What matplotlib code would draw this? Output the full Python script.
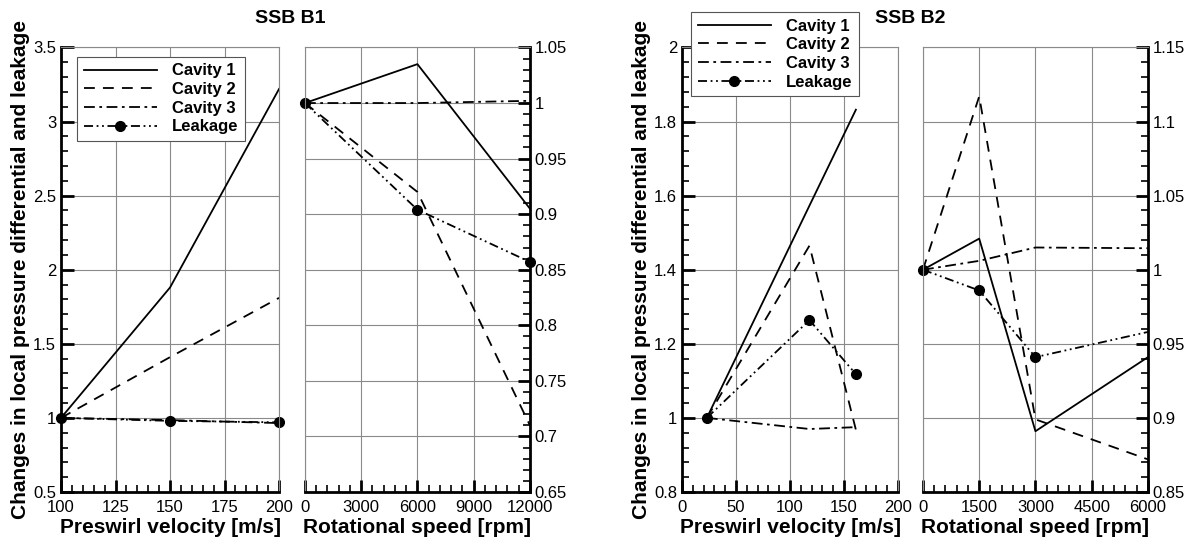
import numpy as np
import matplotlib
matplotlib.use("Agg")
import matplotlib.pyplot as plt
from matplotlib.ticker import MultipleLocator, FormatStrFormatter

plt.rcParams['font.family'] = ['Liberation Sans', 'DejaVu Sans']

# ---- data ----
series_names = ["Cavity 1", "Cavity 2", "Cavity 3", "Leakage"]

# SSB B1, preswirl velocity sweep
b1_preswirl = [100, 150, 200]
b1_pre_cav1 = [1.0, 1.88, 3.22]
b1_pre_cav2 = [1.0, 1.41, 1.81]
b1_pre_cav3 = [1.0, 0.985, 0.965]
b1_pre_leak = [1.0, 0.98, 0.97]

# SSB B1, rotational speed sweep
b1_rpm = [0, 6000, 12000]
b1_rpm_cav1 = [1.0, 1.035, 0.905]
b1_rpm_cav2 = [1.0, 0.92, 0.71]
b1_rpm_cav3 = [1.0, 1.0, 1.002]
b1_rpm_leak = [1.0, 0.904, 0.857]

# SSB B2, preswirl velocity sweep
b2_preswirl = [23, 118, 161]
b2_pre_cav1 = [1.0, 1.573, 1.832]
b2_pre_cav2 = [1.0, 1.465, 0.968]
b2_pre_cav3 = [1.0, 0.97, 0.975]
b2_pre_leak = [1.0, 1.264, 1.118]

# SSB B2, rotational speed sweep
b2_rpm = [0, 1500, 3000, 6000]
b2_rpm_cav1 = [1.0, 1.021, 0.891, 0.941]
b2_rpm_cav2 = [1.0, 1.117, 0.899, 0.872]
b2_rpm_cav3 = [1.0, 1.006, 1.015, 1.0145]
b2_rpm_leak = [1.0, 0.986, 0.941, 0.958]

# line styles for the four series
styles = [
    dict(linestyle='-'),
    dict(dashes=(6, 4.5)),
    dict(dashes=(6, 2.5, 1.5, 2.5)),
    dict(dashes=(5, 2, 1, 2, 1, 2), marker='o', markersize=7),
]

fig = plt.figure(figsize=(11.94, 5.42), dpi=100)

ax1 = fig.add_axes([0.0511, 0.0923, 0.1826, 0.8201])
ax2 = fig.add_axes([0.2554, 0.0923, 0.1884, 0.8201])
ax3 = fig.add_axes([0.5712, 0.0923, 0.1809, 0.8201])
ax4 = fig.add_axes([0.7730, 0.0923, 0.1884, 0.8201])


def style_axis(ax, side, xmaj, xmin, ymaj, ymin):
    ax.set_axisbelow(True)
    ax.grid(True, which='major', color='#8a8a8a', lw=0.8)
    ax.xaxis.set_major_locator(MultipleLocator(xmaj))
    ax.xaxis.set_minor_locator(MultipleLocator(xmin))
    ax.yaxis.set_major_locator(MultipleLocator(ymaj))
    ax.yaxis.set_minor_locator(MultipleLocator(ymin))
    ax.xaxis.set_major_formatter(FormatStrFormatter('%g'))
    ax.yaxis.set_major_formatter(FormatStrFormatter('%g'))
    for s in ax.spines.values():
        s.set_color('#8a8a8a')
        s.set_linewidth(0.8)
    ax.spines['bottom'].set_color('black')
    ax.spines['bottom'].set_linewidth(2)
    ax.spines[side].set_color('black')
    ax.spines[side].set_linewidth(2)
    right = side == 'right'
    ax.tick_params(which='both', direction='in', labelsize=12, width=2,
                   top=False, bottom=True, left=not right, right=right,
                   labelleft=not right, labelright=right)
    ax.tick_params(axis='x', which='both', pad=6)
    ax.tick_params(which='major', length=9)
    ax.tick_params(which='minor', length=5, width=1.2)


def draw(ax, x, ys, leak_every=None):
    handles = []
    for name, y, st in zip(series_names, ys, styles):
        kw = dict(st)
        if 'marker' in kw:
            kw['clip_on'] = False
            if leak_every is not None:
                kw['markevery'] = leak_every
        h, = ax.plot(x, y, color='black', lw=1.3, label=name, **kw)
        handles.append(h)
    return handles


h = draw(ax1, b1_preswirl, [b1_pre_cav1, b1_pre_cav2, b1_pre_cav3, b1_pre_leak])
draw(ax2, b1_rpm, [b1_rpm_cav1, b1_rpm_cav2, b1_rpm_cav3, b1_rpm_leak])
draw(ax3, b2_preswirl, [b2_pre_cav1, b2_pre_cav2, b2_pre_cav3, b2_pre_leak])
draw(ax4, b2_rpm, [b2_rpm_cav1, b2_rpm_cav2, b2_rpm_cav3, b2_rpm_leak],
     leak_every=[0, 1, 2])

ax1.set_xlim(100, 200)
ax1.set_ylim(0.5, 3.5)
style_axis(ax1, 'left', 25, 5, 0.5, 0.1)

ax2.set_xlim(0, 12000)
ax2.set_ylim(0.65, 1.05)
style_axis(ax2, 'right', 3000, 600, 0.05, 0.01)

ax3.set_xlim(0, 200)
ax3.set_ylim(0.8, 2.0)
style_axis(ax3, 'left', 50, 10, 0.2, 0.04)

ax4.set_xlim(0, 6000)
ax4.set_ylim(0.85, 1.15)
style_axis(ax4, 'right', 1500, 300, 0.05, 0.01)

lab = dict(fontsize=15, fontweight='bold')
ylab = "Changes in local pressure differential and leakage"
for ax, xl in [(ax1, "Preswirl velocity [m/s]"), (ax2, "Rotational speed [rpm]"),
               (ax3, "Preswirl velocity [m/s]"), (ax4, "Rotational speed [rpm]")]:
    ax.set_xlabel(xl, labelpad=2, **lab)
ax1.set_ylabel(ylab, labelpad=2, **lab)
ax3.set_ylabel(ylab, labelpad=2, **lab)

fig.text(0.243, 0.965, "SSB B1", ha='center', va='center', fontsize=14,
         fontweight='bold')
fig.text(0.762, 0.965, "SSB B2", ha='center', va='center', fontsize=14,
         fontweight='bold')

leg_kw = dict(loc='upper left', borderaxespad=0, fancybox=False,
              edgecolor='#555555', framealpha=1, handlelength=4.4,
              handletextpad=0.9, labelspacing=0.22, borderpad=0.4,
              numpoints=1, prop=dict(weight='bold', size=12))
l1 = ax1.legend(handles=h, bbox_to_anchor=(0.073, 0.979), **leg_kw)
l1.get_frame().set_linewidth(0.8)
l3 = ax3.legend(handles=h, bbox_to_anchor=(0.042, 1.08), **leg_kw)
l3.get_frame().set_linewidth(0.8)

fig.savefig("out.png", dpi=100)
